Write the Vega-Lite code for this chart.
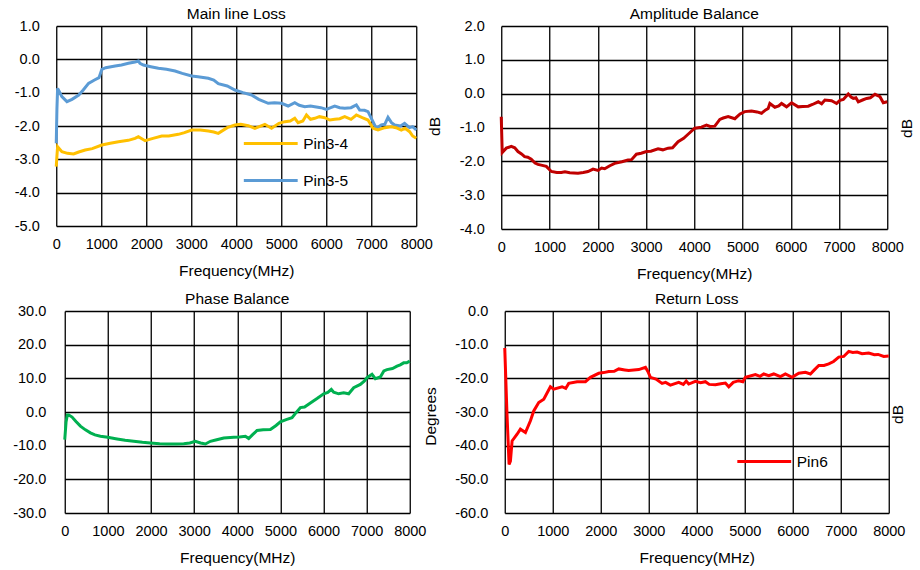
{
  "$schema": "https://vega.github.io/schema/vega-lite/v6.json",
  "padding": {"left": 12, "top": 6, "right": 0, "bottom": 0},
  "background": "white",
  "config": {
    "font": "Liberation Sans",
    "view": {"stroke": null},
    "axis": {"labelFont": "Liberation Sans", "labelFontSize": 14.5, "labelColor": "#000", "titleFont": "Liberation Sans", "titleFontSize": 15.5, "titleFontWeight": "normal", "titleColor": "#000", "grid": true, "gridColor": "#000", "gridOpacity": 1, "gridWidth": 1.3, "domain": false, "ticks": false, "tickSize": 0, "labelFlush": false, "labelOverlap": false},
    "axisX": {"labelPadding": 11, "titlePadding": 13, "labelAngle": 0},
    "axisY": {"labelPadding": 17, "titleAngle": 270, "titleBaseline": "middle", "titleAlign": "center"},
    "title": {"font": "Liberation Sans", "fontSize": 15.5, "fontWeight": "normal", "color": "#000", "offset": -4, "baseline": "alphabetic"},
    "legend": {"labelFont": "Liberation Sans", "labelFontSize": 15.5, "labelColor": "#000", "symbolType": "stroke", "symbolSize": 2900, "symbolStrokeWidth": 3, "labelOffset": 4}
  },
  "datasets": {
    "loss": [
      {"s":"Pin3-5","f":0,"v":-2.52},{"s":"Pin3-5","f":15,"v":-1.5},{"s":"Pin3-5","f":30,"v":-0.87},{"s":"Pin3-5","f":60,"v":-0.95},{"s":"Pin3-5","f":125,"v":-1.12},{"s":"Pin3-5","f":237,"v":-1.27},{"s":"Pin3-5","f":350,"v":-1.2},{"s":"Pin3-5","f":500,"v":-1.07},{"s":"Pin3-5","f":600,"v":-0.92},{"s":"Pin3-5","f":717,"v":-0.72},{"s":"Pin3-5","f":850,"v":-0.62},{"s":"Pin3-5","f":950,"v":-0.55},{"s":"Pin3-5","f":1013,"v":-0.3},{"s":"Pin3-5","f":1100,"v":-0.25},{"s":"Pin3-5","f":1309,"v":-0.2},{"s":"Pin3-5","f":1450,"v":-0.17},{"s":"Pin3-5","f":1604,"v":-0.12},{"s":"Pin3-5","f":1750,"v":-0.08},{"s":"Pin3-5","f":1826,"v":-0.05},{"s":"Pin3-5","f":1860,"v":-0.12},{"s":"Pin3-5","f":1937,"v":-0.17},{"s":"Pin3-5","f":2100,"v":-0.22},{"s":"Pin3-5","f":2270,"v":-0.27},{"s":"Pin3-5","f":2450,"v":-0.3},{"s":"Pin3-5","f":2640,"v":-0.35},{"s":"Pin3-5","f":2800,"v":-0.42},{"s":"Pin3-5","f":3009,"v":-0.5},{"s":"Pin3-5","f":3150,"v":-0.52},{"s":"Pin3-5","f":3379,"v":-0.57},{"s":"Pin3-5","f":3500,"v":-0.62},{"s":"Pin3-5","f":3601,"v":-0.73},{"s":"Pin3-5","f":3800,"v":-0.8},{"s":"Pin3-5","f":3970,"v":-0.92},{"s":"Pin3-5","f":4150,"v":-1.0},{"s":"Pin3-5","f":4340,"v":-1.07},{"s":"Pin3-5","f":4500,"v":-1.2},{"s":"Pin3-5","f":4710,"v":-1.32},{"s":"Pin3-5","f":4850,"v":-1.3},{"s":"Pin3-5","f":5006,"v":-1.32},{"s":"Pin3-5","f":5153,"v":-1.4},{"s":"Pin3-5","f":5300,"v":-1.3},{"s":"Pin3-5","f":5400,"v":-1.38},{"s":"Pin3-5","f":5523,"v":-1.42},{"s":"Pin3-5","f":5650,"v":-1.4},{"s":"Pin3-5","f":5745,"v":-1.42},{"s":"Pin3-5","f":5880,"v":-1.45},{"s":"Pin3-5","f":6004,"v":-1.5},{"s":"Pin3-5","f":6100,"v":-1.45},{"s":"Pin3-5","f":6189,"v":-1.4},{"s":"Pin3-5","f":6300,"v":-1.45},{"s":"Pin3-5","f":6410,"v":-1.47},{"s":"Pin3-5","f":6550,"v":-1.45},{"s":"Pin3-5","f":6669,"v":-1.37},{"s":"Pin3-5","f":6743,"v":-1.52},{"s":"Pin3-5","f":6850,"v":-1.53},{"s":"Pin3-5","f":6928,"v":-1.57},{"s":"Pin3-5","f":7002,"v":-1.77},{"s":"Pin3-5","f":7113,"v":-2.07},{"s":"Pin3-5","f":7224,"v":-1.97},{"s":"Pin3-5","f":7300,"v":-1.95},{"s":"Pin3-5","f":7372,"v":-1.74},{"s":"Pin3-5","f":7450,"v":-1.9},{"s":"Pin3-5","f":7520,"v":-1.97},{"s":"Pin3-5","f":7650,"v":-2.0},{"s":"Pin3-5","f":7741,"v":-1.92},{"s":"Pin3-5","f":7850,"v":-2.05},{"s":"Pin3-5","f":7920,"v":-2.02},{"s":"Pin3-5","f":8000,"v":-2.12},
      {"s":"Pin3-4","f":0,"v":-3.22},{"s":"Pin3-4","f":15,"v":-2.9},{"s":"Pin3-4","f":30,"v":-2.62},{"s":"Pin3-4","f":125,"v":-2.77},{"s":"Pin3-4","f":250,"v":-2.82},{"s":"Pin3-4","f":385,"v":-2.84},{"s":"Pin3-4","f":500,"v":-2.78},{"s":"Pin3-4","f":643,"v":-2.72},{"s":"Pin3-4","f":800,"v":-2.68},{"s":"Pin3-4","f":1013,"v":-2.57},{"s":"Pin3-4","f":1200,"v":-2.52},{"s":"Pin3-4","f":1383,"v":-2.47},{"s":"Pin3-4","f":1600,"v":-2.43},{"s":"Pin3-4","f":1752,"v":-2.37},{"s":"Pin3-4","f":1826,"v":-2.32},{"s":"Pin3-4","f":1974,"v":-2.44},{"s":"Pin3-4","f":2150,"v":-2.37},{"s":"Pin3-4","f":2344,"v":-2.3},{"s":"Pin3-4","f":2500,"v":-2.3},{"s":"Pin3-4","f":2714,"v":-2.25},{"s":"Pin3-4","f":2850,"v":-2.2},{"s":"Pin3-4","f":3009,"v":-2.12},{"s":"Pin3-4","f":3200,"v":-2.12},{"s":"Pin3-4","f":3379,"v":-2.15},{"s":"Pin3-4","f":3500,"v":-2.18},{"s":"Pin3-4","f":3601,"v":-2.22},{"s":"Pin3-4","f":3800,"v":-2.05},{"s":"Pin3-4","f":3970,"v":-1.97},{"s":"Pin3-4","f":4100,"v":-1.95},{"s":"Pin3-4","f":4266,"v":-1.99},{"s":"Pin3-4","f":4414,"v":-2.07},{"s":"Pin3-4","f":4636,"v":-1.95},{"s":"Pin3-4","f":4784,"v":-2.07},{"s":"Pin3-4","f":4950,"v":-1.92},{"s":"Pin3-4","f":5080,"v":-1.87},{"s":"Pin3-4","f":5200,"v":-1.85},{"s":"Pin3-4","f":5300,"v":-1.77},{"s":"Pin3-4","f":5375,"v":-1.9},{"s":"Pin3-4","f":5480,"v":-1.85},{"s":"Pin3-4","f":5560,"v":-1.67},{"s":"Pin3-4","f":5650,"v":-1.8},{"s":"Pin3-4","f":5745,"v":-1.77},{"s":"Pin3-4","f":5850,"v":-1.72},{"s":"Pin3-4","f":5967,"v":-1.75},{"s":"Pin3-4","f":6080,"v":-1.82},{"s":"Pin3-4","f":6189,"v":-1.8},{"s":"Pin3-4","f":6300,"v":-1.78},{"s":"Pin3-4","f":6410,"v":-1.72},{"s":"Pin3-4","f":6550,"v":-1.8},{"s":"Pin3-4","f":6669,"v":-1.67},{"s":"Pin3-4","f":6800,"v":-1.75},{"s":"Pin3-4","f":6928,"v":-1.82},{"s":"Pin3-4","f":7039,"v":-2.07},{"s":"Pin3-4","f":7150,"v":-2.12},{"s":"Pin3-4","f":7300,"v":-2.05},{"s":"Pin3-4","f":7446,"v":-2.02},{"s":"Pin3-4","f":7550,"v":-2.05},{"s":"Pin3-4","f":7668,"v":-2.12},{"s":"Pin3-4","f":7750,"v":-2.07},{"s":"Pin3-4","f":7853,"v":-2.17},{"s":"Pin3-4","f":7920,"v":-2.3},{"s":"Pin3-4","f":8000,"v":-2.37}
    ],
    "amp": [
      {"f":0,"v":-0.68},{"f":20,"v":-1.74},{"f":60,"v":-1.68},{"f":104,"v":-1.61},{"f":207,"v":-1.56},{"f":280,"v":-1.6},{"f":346,"v":-1.71},{"f":420,"v":-1.78},{"f":484,"v":-1.86},{"f":550,"v":-1.88},{"f":622,"v":-1.94},{"f":700,"v":-2.05},{"f":761,"v":-2.09},{"f":850,"v":-2.12},{"f":934,"v":-2.15},{"f":1037,"v":-2.3},{"f":1150,"v":-2.33},{"f":1245,"v":-2.33},{"f":1320,"v":-2.31},{"f":1420,"v":-2.34},{"f":1590,"v":-2.35},{"f":1700,"v":-2.33},{"f":1798,"v":-2.3},{"f":1902,"v":-2.23},{"f":2005,"v":-2.27},{"f":2080,"v":-2.2},{"f":2144,"v":-2.22},{"f":2250,"v":-2.13},{"f":2351,"v":-2.06},{"f":2500,"v":-2.01},{"f":2628,"v":-1.96},{"f":2700,"v":-1.95},{"f":2801,"v":-1.79},{"f":2900,"v":-1.76},{"f":3008,"v":-1.71},{"f":3100,"v":-1.7},{"f":3250,"v":-1.63},{"f":3350,"v":-1.66},{"f":3458,"v":-1.61},{"f":3550,"v":-1.6},{"f":3665,"v":-1.42},{"f":3780,"v":-1.32},{"f":3872,"v":-1.2},{"f":4011,"v":-1.02},{"f":4149,"v":-0.99},{"f":4253,"v":-0.93},{"f":4330,"v":-0.97},{"f":4426,"v":-0.96},{"f":4530,"v":-0.76},{"f":4600,"v":-0.72},{"f":4703,"v":-0.68},{"f":4841,"v":-0.74},{"f":4950,"v":-0.6},{"f":5048,"v":-0.53},{"f":5187,"v":-0.51},{"f":5300,"v":-0.54},{"f":5394,"v":-0.58},{"f":5480,"v":-0.48},{"f":5532,"v":-0.44},{"f":5567,"v":-0.29},{"f":5671,"v":-0.4},{"f":5750,"v":-0.36},{"f":5809,"v":-0.29},{"f":5913,"v":-0.39},{"f":6017,"v":-0.27},{"f":6155,"v":-0.39},{"f":6250,"v":-0.38},{"f":6362,"v":-0.37},{"f":6450,"v":-0.32},{"f":6570,"v":-0.24},{"f":6640,"v":-0.3},{"f":6708,"v":-0.19},{"f":6846,"v":-0.21},{"f":6950,"v":-0.29},{"f":7020,"v":-0.2},{"f":7089,"v":-0.17},{"f":7192,"v":-0.01},{"f":7250,"v":-0.1},{"f":7296,"v":-0.14},{"f":7350,"v":-0.12},{"f":7400,"v":-0.24},{"f":7500,"v":-0.18},{"f":7573,"v":-0.14},{"f":7650,"v":-0.12},{"f":7746,"v":-0.02},{"f":7849,"v":-0.09},{"f":7918,"v":-0.27},{"f":8000,"v":-0.24}
    ],
    "phase": [
      {"f":0,"v":-8.2},{"f":30,"v":-3.0},{"f":60,"v":-0.9},{"f":93,"v":-0.9},{"f":170,"v":-1.5},{"f":260,"v":-2.8},{"f":363,"v":-4.2},{"f":480,"v":-5.3},{"f":595,"v":-6.2},{"f":700,"v":-6.8},{"f":827,"v":-7.2},{"f":997,"v":-7.5},{"f":1213,"v":-8.0},{"f":1400,"v":-8.4},{"f":1600,"v":-8.7},{"f":1800,"v":-9.0},{"f":1986,"v":-9.2},{"f":2200,"v":-9.4},{"f":2372,"v":-9.5},{"f":2600,"v":-9.5},{"f":2759,"v":-9.4},{"f":2900,"v":-9.2},{"f":3029,"v":-8.7},{"f":3150,"v":-9.2},{"f":3261,"v":-9.5},{"f":3377,"v":-8.7},{"f":3500,"v":-8.3},{"f":3686,"v":-7.7},{"f":3918,"v":-7.5},{"f":4050,"v":-7.4},{"f":4189,"v":-7.2},{"f":4266,"v":-7.9},{"f":4350,"v":-6.8},{"f":4459,"v":-5.5},{"f":4600,"v":-5.3},{"f":4768,"v":-5.2},{"f":4900,"v":-4.0},{"f":5000,"v":-2.9},{"f":5150,"v":-2.2},{"f":5270,"v":-1.7},{"f":5364,"v":-0.2},{"f":5464,"v":1.3},{"f":5560,"v":1.5},{"f":5696,"v":2.7},{"f":5850,"v":4.0},{"f":6005,"v":5.4},{"f":6100,"v":5.8},{"f":6182,"v":6.7},{"f":6236,"v":5.9},{"f":6350,"v":5.4},{"f":6468,"v":5.7},{"f":6584,"v":5.4},{"f":6700,"v":7.2},{"f":6855,"v":8.2},{"f":6950,"v":9.2},{"f":7009,"v":10.2},{"f":7125,"v":11.2},{"f":7202,"v":9.9},{"f":7318,"v":10.4},{"f":7400,"v":12.2},{"f":7473,"v":12.6},{"f":7600,"v":12.9},{"f":7705,"v":13.6},{"f":7780,"v":14.0},{"f":7859,"v":14.6},{"f":7930,"v":14.6},{"f":8000,"v":15.1}
    ],
    "rl": [
      {"s":"Pin6","f":0,"v":-11.0},{"s":"Pin6","f":45,"v":-30},{"s":"Pin6","f":90,"v":-45.6},{"s":"Pin6","f":118,"v":-44.6},{"s":"Pin6","f":153,"v":-38.6},{"s":"Pin6","f":257,"v":-36.6},{"s":"Pin6","f":326,"v":-35.1},{"s":"Pin6","f":431,"v":-36.1},{"s":"Pin6","f":535,"v":-32.6},{"s":"Pin6","f":604,"v":-29.7},{"s":"Pin6","f":708,"v":-27.2},{"s":"Pin6","f":813,"v":-26.2},{"s":"Pin6","f":951,"v":-22.5},{"s":"Pin6","f":1021,"v":-23.2},{"s":"Pin6","f":1194,"v":-22.5},{"s":"Pin6","f":1270,"v":-23.0},{"s":"Pin6","f":1333,"v":-21.5},{"s":"Pin6","f":1507,"v":-21.0},{"s":"Pin6","f":1681,"v":-21.0},{"s":"Pin6","f":1785,"v":-19.7},{"s":"Pin6","f":1958,"v":-18.5},{"s":"Pin6","f":2060,"v":-18.3},{"s":"Pin6","f":2167,"v":-18.0},{"s":"Pin6","f":2280,"v":-17.9},{"s":"Pin6","f":2375,"v":-17.2},{"s":"Pin6","f":2500,"v":-17.5},{"s":"Pin6","f":2583,"v":-17.7},{"s":"Pin6","f":2792,"v":-17.4},{"s":"Pin6","f":2931,"v":-16.7},{"s":"Pin6","f":2979,"v":-17.9},{"s":"Pin6","f":3035,"v":-19.7},{"s":"Pin6","f":3150,"v":-20.2},{"s":"Pin6","f":3278,"v":-21.5},{"s":"Pin6","f":3351,"v":-21.2},{"s":"Pin6","f":3451,"v":-22.0},{"s":"Pin6","f":3625,"v":-21.2},{"s":"Pin6","f":3720,"v":-21.8},{"s":"Pin6","f":3780,"v":-20.8},{"s":"Pin6","f":3833,"v":-21.7},{"s":"Pin6","f":3972,"v":-20.9},{"s":"Pin6","f":4080,"v":-21.3},{"s":"Pin6","f":4180,"v":-21.0},{"s":"Pin6","f":4260,"v":-21.8},{"s":"Pin6","f":4389,"v":-21.9},{"s":"Pin6","f":4500,"v":-21.6},{"s":"Pin6","f":4597,"v":-21.4},{"s":"Pin6","f":4667,"v":-22.5},{"s":"Pin6","f":4760,"v":-21.2},{"s":"Pin6","f":4875,"v":-20.7},{"s":"Pin6","f":4960,"v":-21.0},{"s":"Pin6","f":5014,"v":-19.7},{"s":"Pin6","f":5222,"v":-18.9},{"s":"Pin6","f":5320,"v":-19.4},{"s":"Pin6","f":5396,"v":-18.7},{"s":"Pin6","f":5500,"v":-19.2},{"s":"Pin6","f":5604,"v":-18.7},{"s":"Pin6","f":5743,"v":-19.5},{"s":"Pin6","f":5847,"v":-18.7},{"s":"Pin6","f":5986,"v":-19.7},{"s":"Pin6","f":6125,"v":-18.5},{"s":"Pin6","f":6264,"v":-18.2},{"s":"Pin6","f":6368,"v":-18.7},{"s":"Pin6","f":6450,"v":-17.5},{"s":"Pin6","f":6542,"v":-16.2},{"s":"Pin6","f":6650,"v":-16.2},{"s":"Pin6","f":6750,"v":-15.7},{"s":"Pin6","f":6850,"v":-15.0},{"s":"Pin6","f":6958,"v":-13.7},{"s":"Pin6","f":7062,"v":-13.5},{"s":"Pin6","f":7167,"v":-12.0},{"s":"Pin6","f":7250,"v":-12.3},{"s":"Pin6","f":7340,"v":-12.2},{"s":"Pin6","f":7444,"v":-12.7},{"s":"Pin6","f":7583,"v":-12.5},{"s":"Pin6","f":7700,"v":-13.0},{"s":"Pin6","f":7778,"v":-12.9},{"s":"Pin6","f":7896,"v":-13.5},{"s":"Pin6","f":8000,"v":-13.4}
    ]
  },
  "spacing": 9,
  "center": true,
  "resolve": {"scale": {"x": "independent", "y": "independent", "color": "independent"}, "legend": {"color": "independent"}},
  "vconcat": [
    {
      "spacing": 16,
      "resolve": {"scale": {"x": "independent", "y": "independent", "color": "independent"}, "legend": {"color": "independent"}},
      "hconcat": [
        {
          "data": {"name": "loss"},
          "width": 360, "height": 200,
          "title": "Main line Loss",
          "mark": {"type": "line", "strokeWidth": 3},
          "encoding": {
            "x": {"field": "f", "type": "quantitative", "scale": {"domain": [0, 8000], "nice": false, "zero": false}, "axis": {"values": [0,1000,2000,3000,4000,5000,6000,7000,8000], "format": "d", "title": "Frequency(MHz)"}},
            "y": {"field": "v", "type": "quantitative", "scale": {"domain": [-5, 1], "nice": false}, "axis": {"values": [-5,-4,-3,-2,-1,0,1], "labelExpr": "datum.value < 0 ? '-' + format(-datum.value, '.1f') : format(datum.value, '.1f')", "title": "dB", "titleX": 378, "titleY": 100}},
            "color": {"field": "s", "type": "nominal", "scale": {"domain": ["Pin3-4", "Pin3-5"], "range": ["#FFC000", "#5B9BD5"]}, "legend": {"title": null, "orient": "none", "legendX": 186, "legendY": 89, "rowPadding": -18}}
          }
        },
        {
          "data": {"name": "amp"},
          "width": 386, "height": 203,
          "title": "Amplitude Balance",
          "mark": {"type": "line", "strokeWidth": 3, "color": "#C00000"},
          "encoding": {
            "x": {"field": "f", "type": "quantitative", "scale": {"domain": [0, 8000], "nice": false, "zero": false}, "axis": {"values": [0,1000,2000,3000,4000,5000,6000,7000,8000], "format": "d", "title": "Frequency(MHz)"}},
            "y": {"field": "v", "type": "quantitative", "scale": {"domain": [-4, 2], "nice": false}, "axis": {"values": [-4,-3,-2,-1,0,1,2], "labelExpr": "datum.value < 0 ? '-' + format(-datum.value, '.1f') : format(datum.value, '.1f')", "title": "dB", "titleX": 405, "titleY": 102}}
          }
        }
      ]
    },
    {
      "spacing": 14,
      "resolve": {"scale": {"x": "independent", "y": "independent", "color": "independent"}, "legend": {"color": "independent"}},
      "hconcat": [
        {
          "data": {"name": "phase"},
          "width": 345, "height": 202,
          "title": "Phase Balance",
          "mark": {"type": "line", "strokeWidth": 3, "color": "#00B050"},
          "encoding": {
            "x": {"field": "f", "type": "quantitative", "scale": {"domain": [0, 8000], "nice": false, "zero": false}, "axis": {"values": [0,1000,2000,3000,4000,5000,6000,7000,8000], "format": "d", "title": "Frequency(MHz)"}},
            "y": {"field": "v", "type": "quantitative", "scale": {"domain": [-30, 30], "nice": false}, "axis": {"values": [-30,-20,-10,0,10,20,30], "labelPadding": 19, "labelExpr": "datum.value < 0 ? '-' + format(-datum.value, '.1f') : format(datum.value, '.1f')", "title": "Degrees", "titleX": 366, "titleY": 105}}
          }
        },
        {
          "data": {"name": "rl"},
          "width": 384, "height": 202,
          "title": "Return Loss",
          "mark": {"type": "line", "strokeWidth": 3},
          "encoding": {
            "x": {"field": "f", "type": "quantitative", "scale": {"domain": [0, 8000], "nice": false, "zero": false}, "axis": {"values": [0,1000,2000,3000,4000,5000,6000,7000,8000], "format": "d", "title": "Frequency(MHz)"}},
            "y": {"field": "v", "type": "quantitative", "scale": {"domain": [-60, 0], "nice": false}, "axis": {"values": [-60,-50,-40,-30,-20,-10,0], "labelExpr": "datum.value < 0 ? '-' + format(-datum.value, '.1f') : format(datum.value, '.1f')", "title": "dB", "titleX": 393, "titleY": 103}},
            "color": {"field": "s", "type": "nominal", "scale": {"domain": ["Pin6"], "range": ["#FF0000"]}, "legend": {"title": null, "orient": "none", "legendX": 231, "legendY": 122}}
          }
        }
      ]
    }
  ]
}
